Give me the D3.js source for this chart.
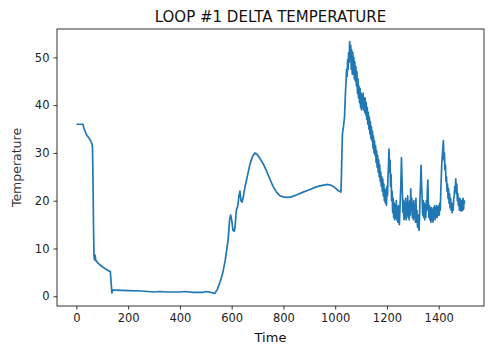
<!DOCTYPE html>
<html><head><meta charset="utf-8">
<script src="https://cdn.jsdelivr.net/npm/d3@7"></script>
<style>body{margin:0;background:#fff}svg{display:block}text{font-family:"DejaVu Sans",sans-serif}</style>
</head><body>
<script>
const chartTitle = "LOOP #1 DELTA TEMPERATURE";
const xLabel = "Time";
const yLabel = "Temperature";
const xTicks = [0, 200, 400, 600, 800, 1000, 1200, 1400];
const yTicks = [0, 10, 20, 30, 40, 50];
// smooth part of the record
const timesA = [0,25,30,39,50,58,62,64,66,68,70,72,75,80,90,100,110,122,131,134,137,140,150,200,250,300,320,350,400,420,450,490,500,520,535,545,555,566,575,586,592,596,600,605,610,613,618,624,628,632,636,640,644,650,660,670,680,690,697,705,721,735,747,760,773,785,798,815,831,850,876,900,927,950,972,985,995,1010,1022,1024,1026,1028,1032,1036];
const tempA = [36.0,36.0,35.0,33.8,33.0,32.2,31.5,25,15,8.5,7.6,8.6,7.5,7.2,6.6,6.2,5.8,5.4,5.2,3,0.7,1.3,1.3,1.2,1.1,0.9,1.0,0.9,0.9,1.0,0.8,0.8,1.0,0.8,0.6,1.5,3,5.0,7.5,11.7,16,17.0,16,13.8,13.6,14.5,18,19,21,22,20,19.7,20.5,22.5,25,27.5,29.2,30.0,29.8,29.2,27.8,26.2,24.6,23.0,21.8,21.1,20.8,20.7,20.8,21.2,21.8,22.3,22.9,23.2,23.4,23.2,22.9,22.2,21.8,25,30,34,35.5,37.5];
// noisy part of the record
const timesB = [1040,1042,1044,1046,1048,1050,1052,1054,1056,1058,1060,1062,1064,1066,1068,1070,1072,1074,1076,1078,1080,1082,1084,1086,1088,1090,1092,1094,1096,1098,1100,1102,1104,1106,1108,1110,1112,1114,1116,1118,1120,1122,1124,1126,1128,1130,1132,1134,1136,1138,1140,1142,1144,1146,1148,1150,1152,1154,1156,1158,1160,1162,1164,1166,1168,1170,1172,1174,1176,1178,1180,1182,1184,1186,1188,1190,1192,1194,1196,1198,1200,1202,1204,1206,1208,1210,1212,1214,1216,1218,1220,1222,1224,1226,1228,1230,1232,1234,1236,1238,1240,1242,1244,1246,1248,1250,1252,1254,1256,1258,1260,1262,1264,1266,1268,1270,1272,1274,1276,1278,1280,1282,1284,1286,1288,1290,1292,1294,1296,1298,1300,1302,1304,1306,1308,1310,1312,1314,1316,1318,1320,1322,1324,1326,1328,1330,1332,1334,1336,1338,1340,1342,1344,1346,1348,1350,1352,1354,1356,1358,1360,1362,1364,1366,1368,1370,1372,1374,1376,1378,1380,1382,1384,1386,1388,1390,1392,1394,1396,1398,1400,1402,1404,1406,1408,1410,1412,1414,1416,1418,1420,1422,1424,1426,1428,1430,1432,1434,1436,1438,1440,1442,1444,1446,1448,1450,1452,1454,1456,1458,1460,1462,1464,1466,1468,1470,1472,1474,1476,1478,1480,1482,1484,1486,1488,1490,1492,1494,1496,1498,1500];
const tempB = [43,45,47.5,46,49.5,47.5,51,49,53.3,49.5,52.5,47.5,51.5,46.5,51,46.5,50,45.5,49,45,48,44,47,42.5,45.5,41.5,44,40.5,43.5,39.5,42.5,39,42,39.5,42.5,39,41.5,38.5,41.5,38,40.5,37,39.5,36,38.5,35,37.5,34,36.5,33,35.5,32.5,34.5,31,33.5,30,32.5,29.5,31.5,28,30.5,27,29.5,26,28.5,25,27.5,24,26,23,25,22,24.5,21,23.5,20,22.5,19.5,22,19,23,21,25,27.5,30.8,26,28.5,23,25.5,20,22,17.5,20.5,16.5,19.5,16,19,16.5,20,16,18.5,15.5,19,16,15,18,21,24,29,25,21,17.5,20,16,19.5,16.5,20.5,16,19.5,17,21,16.5,19.5,16,20,17,22.5,18,20.5,16.5,19.5,16,20,16.5,19,15.5,20.5,15.5,18,14.5,17,14.5,13.8,17,21,24,27.4,23,20.5,17,20,16.5,19.5,16,19,16.5,20,18,22,24.3,19.5,16.5,19,16,18.5,15.5,18.5,16,18,15.5,18.5,16.5,19,16,18.5,16.5,19,16.5,18.5,17,19,17,19.5,18,22,25,28,29.5,31,32.6,28.5,30,26.5,27.5,24,25,22,23.5,20.5,22.5,19.5,21.5,18.5,20.5,18,19.5,17.5,19,18,20.5,21,23,22,24.6,21.5,23.5,20,21.5,19,20.5,18,20.5,18,20,17.8,20,18,20.5,18.2,20,19.4];
const times = timesA.concat(timesB);
const deltaTemp = tempA.concat(tempB);

const W = 491, H = 347;
const m = {left: 57, right: 7, top: 29, bottom: 41};
const svg = d3.select("body").append("svg").attr("width", W).attr("height", H);
const pw = W - m.left - m.right, ph = H - m.top - m.bottom;
const g = svg.append("g").attr("transform", `translate(${m.left},${m.top})`);

const xMin = d3.min(times), xMax = d3.max(times);
const yMin = d3.min(deltaTemp), yMax = d3.max(deltaTemp);
const xs = (xMax - xMin) * 0.05, ys = (yMax - yMin) * 0.05;
const x = d3.scaleLinear().domain([xMin - xs, xMax + xs]).range([0, pw]);
const y = d3.scaleLinear().domain([yMin - ys, yMax + ys]).range([ph, 0]);

const data = times.map((t, i) => [t, deltaTemp[i]]);
g.append("path").datum(data)
  .attr("fill", "none").attr("stroke", "#1f77b4").attr("stroke-width", 1.7)
  .attr("stroke-linejoin", "round")
  .attr("d", d3.line().x(d => x(d[0])).y(d => y(d[1])));

const xa = g.append("g").attr("transform", `translate(0,${ph})`)
  .call(d3.axisBottom(x).tickValues(xTicks).tickSize(3.5).tickPadding(4).tickFormat(d3.format("d")));
const ya = g.append("g")
  .call(d3.axisLeft(y).tickValues(yTicks).tickSize(3.5).tickPadding(4).tickFormat(d3.format("d")));
[xa, ya].forEach(a => {
  a.select(".domain").remove();
  a.selectAll("line").attr("stroke", "#000").attr("stroke-width", 0.8);
  a.selectAll("text").attr("fill", "#222").style("font-size", "11.5px").style("font-family", "DejaVu Sans");
});

g.append("rect").attr("width", pw).attr("height", ph)
  .attr("fill", "none").attr("stroke", "#000").attr("stroke-width", 0.8);

svg.append("text").attr("x", m.left + pw / 2).attr("y", 22).attr("text-anchor", "middle")
  .style("font-size", "15px").attr("fill", "#111").text(chartTitle);
svg.append("text").attr("x", m.left + pw / 2).attr("y", 342).attr("text-anchor", "middle")
  .style("font-size", "13px").attr("fill", "#111").text(xLabel);
svg.append("text").attr("transform", `translate(21,${m.top + ph / 2}) rotate(-90)`)
  .attr("text-anchor", "middle").style("font-size", "12.5px").attr("fill", "#333").text(yLabel);
</script>
</body></html>
